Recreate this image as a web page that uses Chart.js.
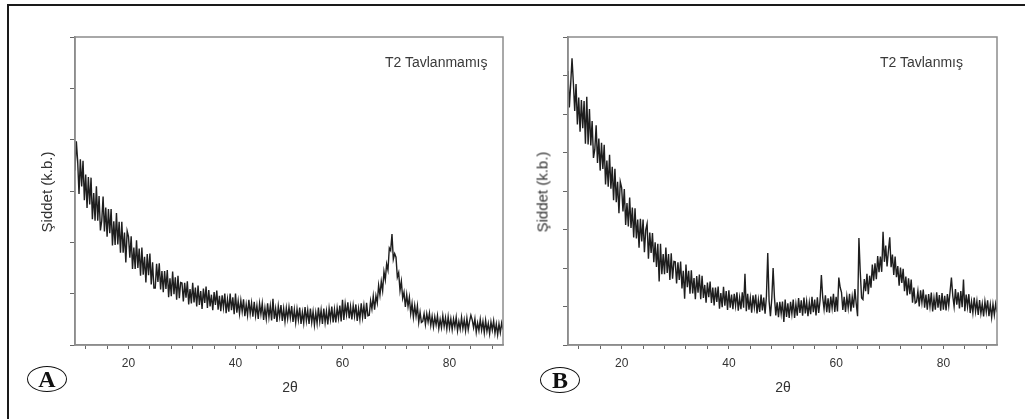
<!DOCTYPE html>
<html>
<head>
<meta charset="utf-8">
<script src="https://cdn.jsdelivr.net/npm/chart.js@4/dist/chart.umd.min.js"></script>
<style>
  html, body { margin: 0; padding: 0; background: #ffffff; }
  #wrap { position: relative; width: 1025px; height: 419px; overflow: hidden; background: #fff; }
  canvas { position: absolute; top: 0; }
  .frameTop { position: absolute; left: 8px; top: 4px; width: 1017px; height: 2px; background: #1a1a1a; }
  .frameLeft { position: absolute; left: 7px; top: 4px; width: 2px; height: 415px; background: #1a1a1a; }
  .ttl { position: absolute; font-family: "Liberation Sans", Arial, sans-serif; font-size: 14px; color: #3a3a3a; white-space: nowrap; }
  .ylab { position: absolute; font-family: "Liberation Sans", Arial, sans-serif; font-size: 15px; color: #333; white-space: nowrap; transform: translate(-50%, -50%) rotate(-90deg); }
  .xlab { position: absolute; font-family: "Liberation Sans", Arial, sans-serif; font-size: 14px; color: #333; transform: translate(-50%, -50%); }
  .badge { position: absolute; width: 38px; height: 24px; border: 1.3px solid #111; border-radius: 50%; font-family: "Liberation Serif", "DejaVu Serif", serif; font-weight: bold; font-size: 24px; line-height: 24px; text-align: center; color: #111; transform: translate(-50%, -50%); }
</style>
</head>
<body>
<div id="wrap">
  <div class="frameTop"></div>
  <div class="frameLeft"></div>
  <canvas id="cA" width="512" height="419" style="left:0px;width:512px;height:419px"></canvas>
  <canvas id="cB" width="513" height="419" style="left:512px;width:513px;height:419px"></canvas>
  <div class="ttl" style="left:385px;top:54px">T2 Tavlanmamış</div>
  <div class="ttl" style="left:880px;top:54px">T2 Tavlanmış</div>
  <div class="ylab" style="left:46px;top:192px">Şiddet (k.b.)</div>
  <div class="ylab" style="left:542px;top:192px">Şiddet (k.b.)</div>
  <div class="xlab" style="left:290px;top:387px">2θ</div>
  <div class="xlab" style="left:783px;top:387px">2θ</div>
  <div class="badge" style="left:47px;top:379px">A</div>
  <div class="badge" style="left:560px;top:380px">B</div>
</div>
<script>
// 2θ sampling grid (degrees)
const twoThetaStart = 10;
const twoThetaStep = 0.25;

// Panel A: T2 Tavlanmamış, intensity (arbitrary units), one row = 5 degrees
const intensityA = [
  3.40, 3.97, 3.58, 2.94, 3.62, 3.09, 3.59, 2.82, 3.32, 2.67, 3.27, 2.74, 3.26, 2.45, 2.96, 2.42, 3.09, 2.42, 2.90, 2.23,
  2.42, 2.89, 2.21, 2.68, 2.11, 2.65, 2.18, 2.65, 1.94, 2.41, 1.95, 2.57, 1.96, 2.40, 1.80, 2.40, 1.80, 2.19, 1.61, 2.22,
  2.11, 1.70, 2.12, 1.48, 1.90, 1.48, 2.04, 1.50, 1.88, 1.35, 1.90, 1.37, 1.72, 1.22, 1.77, 1.36, 1.78, 1.18, 1.61, 1.11,
  1.11, 1.58, 1.23, 1.59, 1.08, 1.44, 1.03, 1.44, 1.09, 1.46, 0.93, 1.30, 0.95, 1.43, 0.99, 1.32, 0.88, 1.35, 0.91, 1.22,
  1.21, 0.85, 1.21, 0.92, 1.24, 0.79, 1.09, 0.81, 1.21, 0.83, 1.12, 0.75, 1.16, 0.78, 1.05, 0.70, 1.10, 0.82, 1.14, 0.72,
  1.07, 0.75, 0.98, 0.68, 1.03, 0.78, 1.06, 0.69, 0.96, 0.66, 0.97, 0.73, 1.00, 0.62, 0.89, 0.65, 1.00, 0.68, 0.93, 0.60,
  1.00, 0.63, 0.86, 0.61, 0.87, 0.65, 0.89, 0.56, 0.79, 0.58, 0.88, 0.61, 0.82, 0.55, 0.84, 0.57, 0.77, 0.51, 0.81, 0.60,
  0.81, 0.49, 0.72, 0.51, 0.81, 0.54, 0.76, 0.48, 0.90, 0.51, 0.71, 0.45, 0.76, 0.55, 0.78, 0.47, 0.71, 0.46, 0.72, 0.51,
  0.74, 0.53, 0.76, 0.45, 0.69, 0.44, 0.70, 0.49, 0.73, 0.41, 0.64, 0.43, 0.74, 0.47, 0.68, 0.41, 0.71, 0.44, 0.65, 0.39,
  0.63, 0.42, 0.73, 0.46, 0.68, 0.41, 0.71, 0.44, 0.66, 0.40, 0.71, 0.50, 0.75, 0.44, 0.69, 0.44, 0.72, 0.52, 0.77, 0.46,
  0.88, 0.49, 0.80, 0.59, 0.83, 0.52, 0.75, 0.50, 0.77, 0.56, 0.79, 0.47, 0.71, 0.50, 0.81, 0.54, 0.77, 0.51, 0.82, 0.57,
  0.58, 0.86, 0.70, 0.95, 0.69, 0.96, 0.82, 1.16, 0.97, 1.24, 1.06, 1.43, 1.27, 1.58, 1.46, 1.89, 1.84, 2.16, 1.67, 1.78,
  1.71, 1.32, 1.41, 1.06, 1.24, 0.91, 1.03, 0.74, 0.98, 0.75, 0.93, 0.61, 0.81, 0.54, 0.77, 0.56, 0.76, 0.44, 0.64, 0.44,
  0.46, 0.61, 0.40, 0.61, 0.45, 0.62, 0.38, 0.56, 0.35, 0.55, 0.39, 0.57, 0.32, 0.50, 0.34, 0.57, 0.36, 0.53, 0.31, 0.55,
  0.33, 0.51, 0.30, 0.51, 0.35, 0.54, 0.28, 0.46, 0.31, 0.54, 0.32, 0.49, 0.28, 0.52, 0.30, 0.46, 0.58, 0.49, 0.34, 0.51,
  0.25, 0.43, 0.28, 0.50, 0.29, 0.46, 0.24, 0.48, 0.27, 0.42, 0.22, 0.45, 0.29, 0.47, 0.23, 0.41, 0.20, 0.41, 0.24, 0.43,
  0.30
];

// Panel B: T2 Tavlanmış, intensity (arbitrary units), one row = 5 degrees
const intensityB = [
  7.12, 6.17, 6.78, 7.45, 6.81, 6.08, 6.78, 5.73, 6.43, 5.54, 6.36, 5.63, 6.34, 5.23, 6.45, 5.21, 6.13, 5.18, 5.82, 4.86,
  5.08, 5.71, 4.73, 5.36, 4.53, 5.25, 4.57, 5.20, 4.17, 4.79, 4.11, 4.94, 4.06, 4.63, 3.76, 4.58, 3.71, 4.24, 3.42, 4.24,
  4.09, 3.47, 4.05, 3.12, 3.69, 3.08, 3.83, 3.04, 3.57, 2.79, 3.55, 2.77, 3.26, 2.53, 3.28, 2.69, 3.26, 2.41, 2.99, 3.15,
  2.24, 2.92, 2.39, 2.91, 2.15, 2.67, 2.03, 2.63, 1.65, 2.63, 1.84, 2.36, 1.84, 2.53, 1.87, 2.36, 1.69, 2.38, 1.72, 2.17,
  2.16, 1.60, 2.15, 1.69, 2.17, 1.47, 1.93, 1.20, 2.09, 1.50, 1.93, 1.33, 1.94, 1.34, 1.74, 1.19, 1.79, 1.36, 1.83, 1.19,
  1.80, 1.22, 1.56, 1.10, 1.62, 1.24, 1.65, 1.09, 1.49, 1.03, 1.49, 1.12, 1.52, 0.94, 1.35, 0.98, 1.51, 1.02, 1.40, 0.91,
  1.42, 0.97, 1.31, 0.93, 1.33, 1.02, 1.37, 0.89, 1.23, 0.93, 1.37, 0.97, 1.85, 0.88, 1.33, 0.92, 1.22, 0.84, 1.29, 0.98,
  1.31, 0.82, 1.17, 0.86, 1.31, 0.90, 1.23, 0.81, 1.26, 2.39, 1.14, 0.75, 1.20, 2.00, 1.23, 0.77, 1.11, 0.72, 1.12, 0.81,
  1.13, 0.60, 1.18, 0.73, 1.08, 0.70, 1.12, 0.81, 1.18, 0.70, 1.06, 0.76, 1.22, 0.83, 1.16, 0.76, 1.23, 0.82, 1.13, 0.75,
  1.10, 0.80, 1.25, 0.85, 1.18, 0.77, 1.24, 0.83, 1.15, 1.82, 1.23, 0.93, 1.29, 0.85, 1.21, 0.84, 1.26, 0.96, 1.33, 0.86,
  1.25, 0.87, 1.75, 1.50, 1.37, 0.91, 1.25, 0.86, 1.26, 0.96, 1.33, 0.87, 1.25, 0.97, 1.45, 1.07, 0.75, 2.78, 1.90, 1.22,
  1.18, 1.71, 1.40, 1.85, 1.32, 1.80, 1.49, 2.09, 1.67, 2.12, 1.71, 2.31, 1.89, 2.30, 1.90, 2.94, 2.16, 2.58, 2.04, 2.45,
  2.80, 2.02, 2.35, 1.82, 2.30, 1.76, 2.05, 1.54, 2.01, 1.61, 1.98, 1.40, 1.78, 1.29, 1.73, 1.32, 1.70, 1.10, 1.49, 1.09,
  1.12, 1.40, 1.00, 1.42, 1.10, 1.44, 0.97, 1.31, 0.92, 1.32, 1.00, 1.36, 0.87, 1.22, 0.92, 1.37, 0.97, 1.30, 0.89, 1.35,
  0.92, 1.28, 0.90, 1.32, 1.02, 1.39, 1.75, 1.28, 1.00, 1.45, 1.05, 1.37, 0.95, 1.40, 0.98, 1.70, 0.88, 1.31, 0.99, 1.32,
  0.83, 1.13, 0.84, 1.23, 0.87, 1.14, 0.78, 1.17, 0.82, 1.07, 0.74, 1.13, 0.86, 1.16, 0.75, 1.05, 0.72, 1.06, 0.78, 1.07,
  0.85
];

// Axis ticks
const xTickMarks = [12, 16, 20, 24, 28, 32, 36, 40, 44, 48, 52, 56, 60, 64, 68, 72, 76, 80, 84, 88];
const xTickLabels = [20, 40, 60, 80];
const yTickMarksA = [0, 1, 2, 3, 4, 5, 6];
const yTickMarksB = [0, 1, 2, 3, 4, 5, 6, 7, 8];

function toPoints(vals) {
  return vals.map((v, i) => ({ x: twoThetaStart + i * twoThetaStep, y: v }));
}

const boxPlugin = {
  id: 'box',
  afterDraw(chart) {
    const a = chart.chartArea, c = chart.ctx;
    c.save();
    c.strokeStyle = '#8c8c8c';
    c.lineWidth = 1.5;
    c.strokeRect(a.left, a.top, a.right - a.left, a.bottom - a.top);
    c.restore();
  }
};

function makeChart(id, vals, yTicks, pad) {
  return new Chart(document.getElementById(id), {
    type: 'line',
    data: { datasets: [{ data: toPoints(vals), borderColor: '#1e1e1e', borderWidth: 1.4, pointRadius: 0, tension: 0, fill: false }] },
    options: {
      responsive: false,
      animation: false,
      events: [],
      layout: { padding: pad },
      plugins: { legend: { display: false }, tooltip: { enabled: false } },
      scales: {
        x: {
          type: 'linear', min: 10, max: 90,
          afterBuildTicks: s => { s.ticks = xTickMarks.map(v => ({ value: v })); },
          afterFit: s => { s.height = 30; },
          border: { color: '#8c8c8c', width: 1.5 },
          grid: { drawOnChartArea: false, drawTicks: true, tickLength: 4, color: '#666' },
          ticks: {
            autoSkip: false, maxRotation: 0, padding: 7, color: '#333',
            font: { family: '"Liberation Sans", Arial, sans-serif', size: 12 },
            callback: v => xTickLabels.includes(v) ? String(v) : ''
          }
        },
        y: {
          type: 'linear', min: yTicks[0], max: yTicks[yTicks.length - 1],
          afterBuildTicks: s => { s.ticks = yTicks.map(v => ({ value: v })); },
          afterFit: s => { s.width = 10; },
          border: { color: '#8c8c8c', width: 1.5 },
          grid: { drawOnChartArea: false, drawTicks: true, tickLength: 5, color: '#666' },
          ticks: { display: false }
        }
      }
    },
    plugins: [boxPlugin]
  });
}

makeChart('cA', intensityA, yTickMarksA, { left: 65, right: 9, top: 37, bottom: 44 });
makeChart('cB', intensityB, yTickMarksB, { left: 46, right: 28, top: 37, bottom: 44 });
</script>
</body>
</html>
